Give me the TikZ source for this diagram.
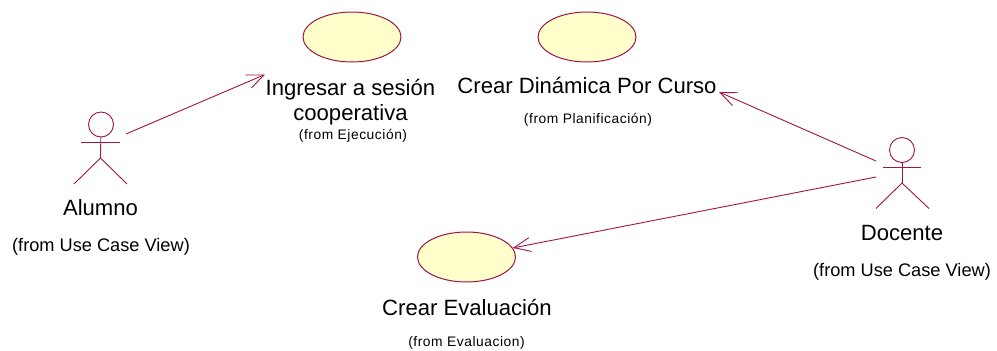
\documentclass[tikz,border=0pt]{standalone}
\usepackage{fontspec}
\setmainfont{Liberation Sans}
\newfontfamily\smallspaced[LetterSpace=4]{Liberation Sans}
\usetikzlibrary{shapes.geometric,arrows.meta}
\definecolor{umlline}{RGB}{160,20,70}
\definecolor{umlfill}{RGB}{255,255,204}
\tikzset{
  x=1pt,y=-1pt,
  usecase/.style={draw=umlline,fill=umlfill,line width=1pt,ellipse,minimum width=98pt,minimum height=50pt,inner sep=0pt},
  actorhead/.style={draw=umlline,line width=0.9pt,circle,minimum size=25pt,inner sep=0pt},
  limb/.style={draw=umlline,line width=0.9pt},
  assoc/.style={draw=umlline,line width=0.9pt,-{Straight Barb[length=16.6pt,width=14pt,line width=0.9pt]}},
  titletext/.style={font=\fontsize{22.1}{25}\selectfont,inner sep=0pt,align=center},
  fromtext/.style={font=\fontsize{18.2}{22}\selectfont,inner sep=0pt},
  fromsmall/.style={font=\fontsize{13.8}{16}\smallspaced,inner sep=0pt},
}
\begin{document}
\begin{tikzpicture}
\useasboundingbox (0,0) rectangle (997,351);
% use cases
\node[usecase] (ingresar) at (352,37) {};
\node[usecase] (dinamica) at (587,37) {};
\node[usecase] (evaluacion) at (466.5,257) {};
\node[titletext] (ingresarT) at (350.5,102.5) {Ingresar a sesión\\cooperativa};
\node[fromsmall] (ingresarF) at (353,135.5) {(from Ejecución)};
\node[titletext] (dinamicaT) at (587,85.5) {Crear Dinámica Por Curso};
\node[fromsmall] (dinamicaF) at (588,119.5) {(from Planificación)};
\node[titletext] (evaluacionT) at (467,307.5) {Crear Evaluación};
\node[fromsmall] (evaluacionF) at (466.5,342.5) {(from Evaluacion)};
% Alumno
\node[actorhead] (aHead) at (101,124.5) {};
\coordinate (aArmL) at (81,142);
\coordinate (aArmR) at (120,142);
\coordinate (aHip) at (100.5,158);
\coordinate (aFootL) at (74,184);
\coordinate (aFootR) at (127,184);
\draw[limb] (aHead) -- (aHip);
\draw[limb] (aArmL) -- (aArmR);
\draw[limb] (aFootL) -- (aHip) -- (aFootR);
\node[titletext] (aName) at (100.5,207.5) {Alumno};
\node[fromtext] (aFrom) at (101,247) {(from Use Case View)};
% Docente
\node[actorhead] (dHead) at (902,150) {};
\coordinate (dArmL) at (883,167);
\coordinate (dArmR) at (921,167);
\coordinate (dHip) at (902,183);
\coordinate (dFootL) at (876,208.5);
\coordinate (dFootR) at (929,208.5);
\draw[limb] (dHead) -- (dHip);
\draw[limb] (dArmL) -- (dArmR);
\draw[limb] (dFootL) -- (dHip) -- (dFootR);
\node[titletext] (dName) at (902,233) {Docente};
\node[fromtext] (dFrom) at (902,272) {(from Use Case View)};
% connectors
\coordinate (aOut) at (126,134);
\coordinate (ingresarIn) at (265,74.5);
\coordinate (dOutA) at (876,161);
\coordinate (dinamicaIn) at (719,92);
\coordinate (dOutB) at (876,177);
\draw[assoc] (aOut) -- (ingresarIn);
\draw[assoc] (dOutA) -- (dinamicaIn);
\draw[assoc] (dOutB) -- (evaluacion);
\end{tikzpicture}
\end{document}
